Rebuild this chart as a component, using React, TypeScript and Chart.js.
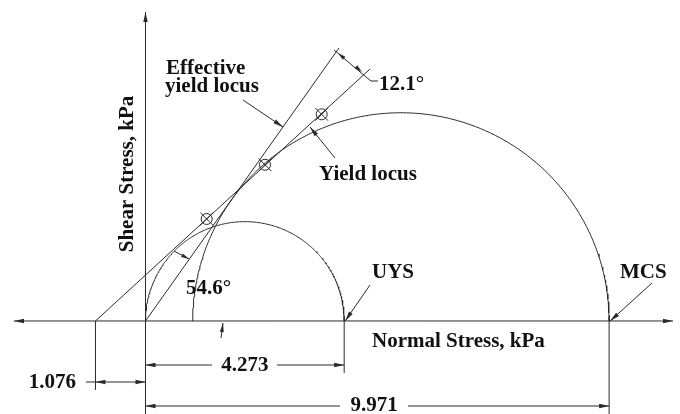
import { useEffect, useRef } from "react";
import { Chart, registerables } from "chart.js";
Chart.register(...registerables);

// Mohr circles, given by their end points on the normal-stress axis (kPa)
const uysCircle = [0, 4.273];
const mcsCircle = [1.015, 9.971];
// Loci (kPa)
const effectiveLocus = [
  { x: 0, y: 0 },
  { x: 4.16, y: 5.87 },
];
const yieldLocus = [
  { x: -1.076, y: 0 },
  { x: 4.83, y: 5.42 },
];
// Shear test points on the yield locus
const testPoints = [
  { x: 1.316, y: 2.194 },
  { x: 2.57, y: 3.36 },
  { x: 3.789, y: 4.445 },
];
const tensileStrength = 1.076;
const unconfinedYieldStrength = 4.273;
const majorConsolidationStress = 9.971;
const angleLabels = ["54.6°", "12.1°"];
const curveLabels = ["Effective", "yield locus", "Yield locus", "UYS", "MCS"];
const axisTitles = ["Normal Stress, kPa", "Shear Stress, kPa"];

function semicircle(ends: number[], n = 240) {
  const c = (ends[0] + ends[1]) / 2;
  const r = (ends[1] - ends[0]) / 2;
  const pts: { x: number; y: number }[] = [];
  for (let i = 0; i <= n; i++) {
    const t = (Math.PI * i) / n;
    pts.push({ x: c - r * Math.cos(t), y: r * Math.sin(t) });
  }
  return pts;
}

const LINE = "#2a2a2a";
const FONT = 'bold 21px "Liberation Serif", "Times New Roman", serif';

function arrowHead(ctx: CanvasRenderingContext2D, fx: number, fy: number, tx: number, ty: number, len = 10, half = 2.2) {
  const a = Math.atan2(ty - fy, tx - fx);
  const bx = tx - len * Math.cos(a);
  const by = ty - len * Math.sin(a);
  ctx.beginPath();
  ctx.moveTo(tx, ty);
  ctx.lineTo(bx + half * Math.sin(a), by - half * Math.cos(a));
  ctx.lineTo(bx - half * Math.sin(a), by + half * Math.cos(a));
  ctx.closePath();
  ctx.fill();
}

function seg(ctx: CanvasRenderingContext2D, pts: number[][]) {
  ctx.beginPath();
  ctx.moveTo(pts[0][0], pts[0][1]);
  for (let i = 1; i < pts.length; i++) ctx.lineTo(pts[i][0], pts[i][1]);
  ctx.stroke();
}

const annotationPlugin = {
  id: "mohrAnnotations",
  afterDatasetsDraw(chart: any) {
    const ctx: CanvasRenderingContext2D = chart.ctx;
    const X = (v: number) => chart.scales.x.getPixelForValue(v);
    const Y = (v: number) => chart.scales.y.getPixelForValue(v);
    const x0 = X(0), y0 = Y(0);
    const xT = X(-tensileStrength), xU = X(unconfinedYieldStrength), xM = X(majorConsolidationStress);
    ctx.save();
    ctx.strokeStyle = LINE;
    ctx.fillStyle = LINE;
    ctx.lineWidth = 1;

    // axes
    seg(ctx, [[14, y0], [673, y0]]);
    arrowHead(ctx, 40, y0, 14, y0);
    arrowHead(ctx, 640, y0, 673, y0);
    seg(ctx, [[x0, 414], [x0, 12]]);
    arrowHead(ctx, x0, 40, x0, 12);

    // extension lines
    seg(ctx, [[xT, y0], [xT, 390]]);
    seg(ctx, [[xU, y0], [xU, 373]]);
    seg(ctx, [[xM, y0], [xM, 414]]);

    // dimension 4.273
    seg(ctx, [[x0, 365], [212, 365]]);
    seg(ctx, [[277, 365], [xU, 365]]);
    arrowHead(ctx, x0 + 20, 365, x0, 365);
    arrowHead(ctx, xU - 20, 365, xU, 365);
    // dimension 1.076
    seg(ctx, [[86, 382], [x0, 382]]);
    arrowHead(ctx, xT + 20, 382, xT, 382);
    arrowHead(ctx, x0 - 20, 382, x0, 382);
    // dimension 9.971
    seg(ctx, [[x0, 406], [340, 406]]);
    seg(ctx, [[408, 406], [xM, 406]]);
    arrowHead(ctx, x0 + 20, 406, x0, 406);
    arrowHead(ctx, xM - 20, 406, xM, 406);

    // leaders
    seg(ctx, [[243, 100], [283, 127]]);
    arrowHead(ctx, 243, 100, 283, 127);
    seg(ctx, [[335, 158], [310, 127]]);
    arrowHead(ctx, 335, 158, 310, 127);
    seg(ctx, [[370, 285], [xU + 1, y0]]);
    arrowHead(ctx, 370, 285, xU + 1, y0);
    seg(ctx, [[652, 283], [xM + 1, y0]]);
    arrowHead(ctx, 652, 283, xM + 1, y0);
    seg(ctx, [[221, 338], [223, 323]]);
    arrowHead(ctx, 221, 338, 223, 323, 9, 2);

    // 54.6 angle dimension
    seg(ctx, [[174, 251], [189, 259]]);
    arrowHead(ctx, 174, 251, 189, 259, 8, 2);
    // 12.1 angle dimension
    seg(ctx, [[334, 50], [366, 77]]);
    arrowHead(ctx, 352, 65, 338, 53, 8, 2);
    arrowHead(ctx, 348, 60, 362, 72, 8, 2);
    seg(ctx, [[366, 77], [371, 81], [378, 81]]);

    // text
    ctx.fillStyle = "#111";
    ctx.font = FONT;
    ctx.textBaseline = "alphabetic";
    ctx.textAlign = "left";
    ctx.fillText(curveLabels[0], 166, 74);
    ctx.fillText(curveLabels[1], 165, 92);
    ctx.fillText(curveLabels[2], 319, 180);
    ctx.fillText(angleLabels[1], 379, 90);
    ctx.fillText(angleLabels[0], 186, 294);
    ctx.fillText(curveLabels[3], 372, 278);
    ctx.fillText(curveLabels[4], 620, 278);
    ctx.fillText(axisTitles[0], 372, 347);
    ctx.textBaseline = "middle";
    ctx.textAlign = "center";
    ctx.fillText(unconfinedYieldStrength.toFixed(3), (x0 + xU) / 2, 366);
    ctx.fillText(majorConsolidationStress.toFixed(3), 374, 406);
    ctx.textAlign = "right";
    ctx.fillText(tensileStrength.toFixed(3), 76, 383);
    ctx.save();
    ctx.translate(133, 174);
    ctx.rotate(-Math.PI / 2);
    ctx.textAlign = "center";
    ctx.textBaseline = "alphabetic";
    ctx.fillText(axisTitles[1], 0, 0);
    ctx.restore();
    ctx.restore();
  },
};

export default function App() {
  const ref = useRef<HTMLCanvasElement | null>(null);
  useEffect(() => {
    document.body.style.margin = "0";
    if (!ref.current) return;
    const lineDs = (data: any[]) => ({
      data,
      showLine: true,
      borderColor: LINE,
      borderWidth: 1,
      pointRadius: 0,
      pointHoverRadius: 0,
      fill: false,
      tension: 0,
    });
    const chart = new Chart(ref.current, {
      type: "scatter",
      data: {
        datasets: [
          lineDs(semicircle(uysCircle)),
          lineDs(semicircle(mcsCircle)),
          lineDs(effectiveLocus),
          lineDs(yieldLocus),
          {
            data: testPoints,
            showLine: false,
            pointStyle: "circle",
            pointRadius: 5.5,
            borderColor: LINE,
            borderWidth: 1,
            backgroundColor: "rgba(0,0,0,0)",
          },
          {
            data: testPoints,
            showLine: false,
            pointStyle: "crossRot",
            pointRadius: 9,
            borderColor: LINE,
            borderWidth: 1,
          },
        ],
      },
      options: {
        animation: false,
        responsive: false,
        devicePixelRatio: 1,
        layout: { padding: 0, autoPadding: false } as any,
        events: [],
        plugins: { legend: { display: false }, tooltip: { enabled: false } },
        scales: {
          x: { type: "linear", min: -3.129, max: 11.495, display: false },
          y: { type: "linear", min: -2.0, max: 6.903, display: false },
        },
      },
      plugins: [annotationPlugin],
    });
    return () => chart.destroy();
  }, []);
  return (
    <div style={{ width: 680, height: 414, background: "#fff" }}>
      <canvas ref={ref} width={680} height={414} />
    </div>
  );
}
